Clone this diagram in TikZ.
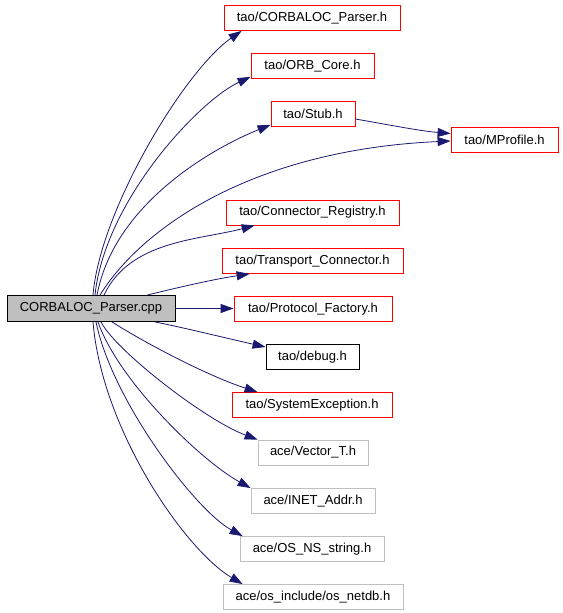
\documentclass[tikz,border=0pt]{standalone}
\usepackage{fontspec}
\setmainfont{Liberation Sans}
\usetikzlibrary{arrows.meta,calc}
\definecolor{edgeblue}{HTML}{191970}
\definecolor{boxred}{HTML}{FF0000}
\definecolor{boxgray}{HTML}{BFBFBF}
\newcommand{\fs}{\fontsize{13bp}{15bp}\selectfont}
\tikzset{
  box/.style={draw, rectangle, inner sep=0pt, line width=0.8bp, font=\fs, minimum height=25bp},
  redbox/.style={box, draw=boxred},
  graybox/.style={box, draw=boxgray},
  blackbox/.style={box, draw=black},
  rootbox/.style={box, draw=black, fill=boxgray, minimum height=26bp},
  edge/.style={draw=edgeblue, line width=0.8bp, -{Triangle[length=13bp,width=9bp]}}
}
\begin{document}
\begin{tikzpicture}[x=1bp,y=-1bp]
\useasboundingbox (0,0) rectangle (563,613);
\node[rootbox, minimum width=168bp] (root) at (91,308.5) {CORBALOC\_Parser.cpp};
\node[redbox, minimum width=176bp] (cp) at (312,18) {tao/CORBALOC\_Parser.h};
\node[redbox, minimum width=123bp] (oc) at (312.5,66) {tao/ORB\_Core.h};
\node[redbox, minimum width=84bp] (stub) at (313,114) {tao/Stub.h};
\node[redbox, minimum width=107bp] (mp) at (504.5,139.5) {tao/MProfile.h};
\node[redbox, minimum width=173bp] (cr) at (312.5,212.5) {tao/Connector\_Registry.h};
\node[redbox, minimum width=181bp] (tc) at (312.5,261) {tao/Transport\_Connector.h};
\node[redbox, minimum width=158bp] (pf) at (313,309) {tao/Protocol\_Factory.h};
\node[blackbox, minimum width=93bp] (dbg) at (312.5,357) {tao/debug.h};
\node[redbox, minimum width=160bp] (se) at (312,405) {tao/SystemException.h};
\node[graybox, minimum width=110bp] (vt) at (313,452.5) {ace/Vector\_T.h};
\node[graybox, minimum width=124bp] (ia) at (313,501) {ace/INET\_Addr.h};
\node[graybox, minimum width=144bp] (ns) at (312,549) {ace/OS\_NS\_string.h};
\node[graybox, minimum width=180bp] (nd) at (313,597) {ace/os\_include/os\_netdb.h};

\draw[edge] ([xshift=2bp]root.north) .. controls (100,210) and (185,70) .. ([xshift=18bp]cp.south west);
\draw[edge] ([xshift=4bp]root.north) .. controls (105,200) and (200,100) .. ([yshift=2bp]oc.south west);
\draw[edge] ([xshift=6bp]root.north) .. controls (115,200) and (220,145) .. ([yshift=2bp]stub.south west);
\draw[edge] ([xshift=9bp]root.north) .. controls (140,230) and (250,150) .. ([yshift=-1.5bp]mp.west);
\draw[edge] ([yshift=-5bp]stub.east) .. controls (390,125) and (420,131) .. ([yshift=6bp]mp.west);
\draw[edge] ([xshift=13bp]root.north) .. controls (130,240) and (200,240) .. ([xshift=29bp]cr.south west);
\draw[edge] ([xshift=56bp]root.north) .. controls (180,287) and (215,279) .. ([xshift=28bp]tc.south west);
\draw[edge] (root.east) -- (root.east -| pf.west);
\draw[edge] ([xshift=64bp]root.south) .. controls (185,328) and (230,339) .. ([yshift=10bp]dbg.west);
\draw[edge] ([xshift=21bp]root.south) .. controls (140,340) and (205,375) .. ([xshift=26bp]se.north west);
\draw[edge] ([xshift=10bp]root.south) .. controls (115,350) and (205,420) .. (vt.north west);
\draw[edge] ([xshift=7bp]root.south) .. controls (118,380) and (200,460) .. (ia.north west);
\draw[edge] ([xshift=5bp]root.south) .. controls (112,400) and (195,510) .. ([xshift=3bp]ns.north west);
\draw[edge] ([xshift=2bp]root.south) .. controls (102,430) and (185,550) .. ([xshift=20bp]nd.north west);
\end{tikzpicture}
\end{document}
